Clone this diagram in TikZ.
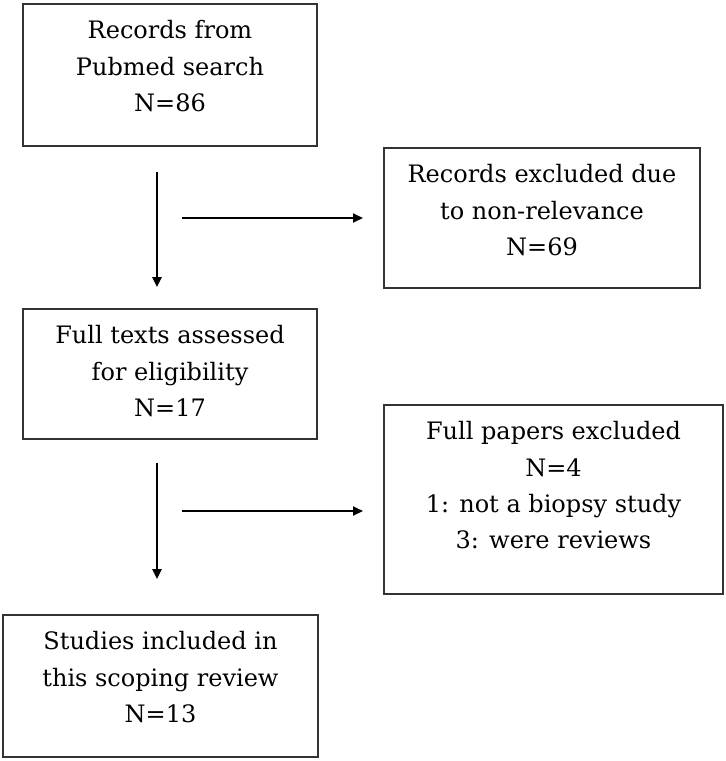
\documentclass[tikz,border=0pt]{standalone}
\usepackage{fontspec}
\setmainfont{DejaVu Serif}
\usetikzlibrary{arrows.meta}
\definecolor{boxgray}{gray}{0.2}
\begin{document}
\begin{tikzpicture}[x=1pt,y=-1pt,
  box/.style={draw=boxgray, line width=2pt, rectangle, inner sep=0pt},
  txt/.style={align=center, inner sep=0pt, anchor=north, font=\fontsize{24}{36.3}\selectfont, text=black},
  arr/.style={line width=1.8pt, -{Triangle[length=10pt,width=9pt]}},
  varr/.style={arr, line width=2.4pt}]
\useasboundingbox (0,0) rectangle (726,761);

\node[box, minimum width=294pt, minimum height=142pt] (b1) at (170,75) {};
\node[box, minimum width=316pt, minimum height=140pt] (b2) at (542,218) {};
\node[box, minimum width=294pt, minimum height=130pt] (b3) at (170,374) {};
\node[box, minimum width=339pt, minimum height=189pt] (b4) at (553.5,499.5) {};
\node[box, minimum width=315pt, minimum height=142pt] (b5) at (160.5,686) {};

\node[txt] (t1) at ([yshift=-17.5pt]b1.north) {Records from\\Pubmed search\\N=86};
\node[txt] (t2) at ([yshift=-17.5pt]b2.north) {Records excluded due\\to non-relevance\\N=69};
\node[txt] (t3) at ([yshift=-17.5pt]b3.north) {Full texts assessed\\for eligibility\\N=17};
\node[txt] (t4) at ([yshift=-17.5pt]b4.north) {Full papers excluded\\N=4\\1: not a biopsy study\\3: were reviews};
\node[txt] (t5) at ([yshift=-17.5pt]b5.north) {Studies included in\\this scoping review\\N=13};

\coordinate (v1s) at (157,172);
\coordinate (v1e) at (157,287);
\coordinate (h1s) at (182,218);
\coordinate (v2s) at (157,463);
\coordinate (v2e) at (157,579);
\coordinate (h2s) at (182,511);

\draw[varr] (v1s) -- (v1e);
\draw[arr, shorten >=20pt] (h1s) -- (h1s -| b2.west);
\draw[varr] (v2s) -- (v2e);
\draw[arr, shorten >=20pt] (h2s) -- (h2s -| b4.west);
\end{tikzpicture}
\end{document}
